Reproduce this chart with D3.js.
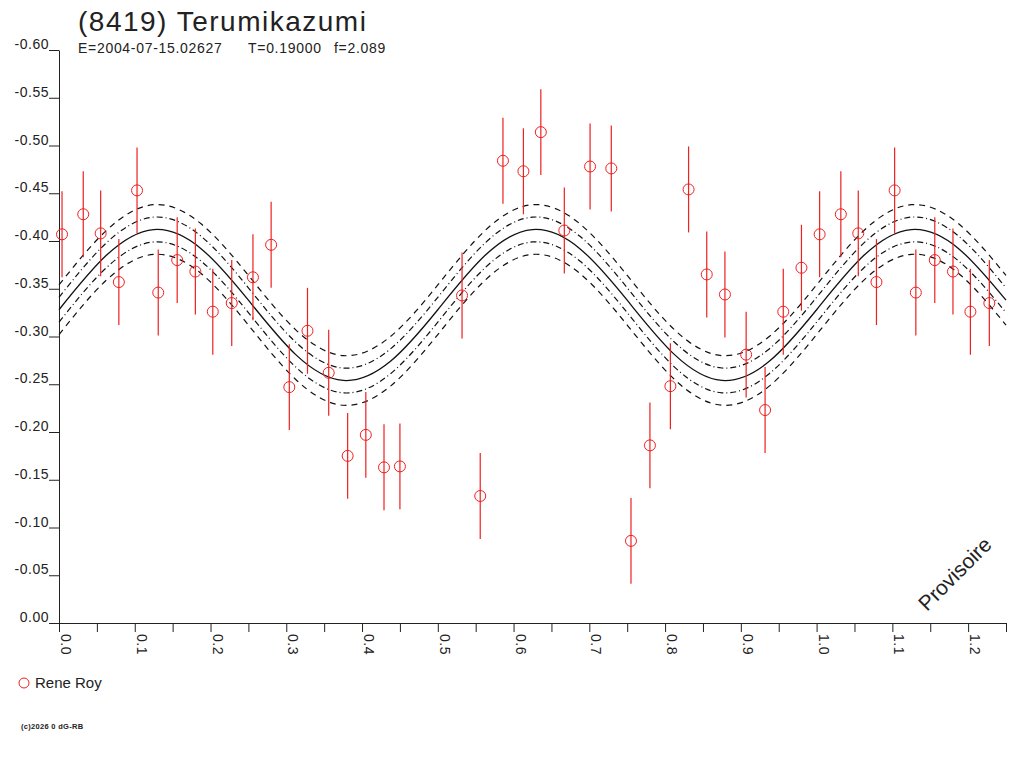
<!DOCTYPE html>
<html>
<head>
<meta charset="utf-8">
<script src="https://cdn.jsdelivr.net/npm/d3@7"></script>
<style>
  body { margin: 0; background: #fff; }
  text { font-family: "Liberation Sans", Arial, sans-serif; fill: #222; }
</style>
</head>
<body>
<div id="chart"></div>
<script>
const width = 1024;
const height = 768;

// observations (phase, reduced magnitude), one rotation
const obsPhase = [0.004, 0.032, 0.055, 0.079, 0.103, 0.131, 0.156, 0.180, 0.203, 0.228,
  0.256, 0.280, 0.304, 0.328, 0.356, 0.381, 0.405, 0.429, 0.450, 0.532,
  0.556, 0.586, 0.613, 0.636, 0.667, 0.701, 0.729, 0.755, 0.780, 0.807,
  0.831, 0.855, 0.879, 0.907, 0.932, 0.956, 0.980];
const obsMag = [-0.407, -0.428, -0.408, -0.357, -0.453, -0.346, -0.380, -0.368, -0.326, -0.335,
  -0.362, -0.396, -0.247, -0.306, -0.262, -0.175, -0.197, -0.163, -0.164, -0.343,
  -0.133, -0.484, -0.473, -0.514, -0.411, -0.478, -0.476, -0.086, -0.186, -0.248,
  -0.454, -0.365, -0.344, -0.281, -0.223, -0.326, -0.372];
const obsErr = 0.045;

// fitted lightcurve
const modelPhase = [0, 0.0625, 0.125, 0.1875, 0.25, 0.3125, 0.375, 0.4375, 0.5, 0.5625,
  0.625, 0.6875, 0.75, 0.8125, 0.875, 0.9375, 1.0, 1.0625, 1.125, 1.1875, 1.25];
const modelMag = [-0.328, -0.385, -0.412, -0.392, -0.338, -0.281, -0.254, -0.274, -0.328, -0.385,
  -0.412, -0.392, -0.338, -0.281, -0.254, -0.274, -0.328, -0.385, -0.412, -0.392, -0.338];
const bandOffsets = [-0.026, -0.013, 0.013, 0.026];

const yTicks = [-0.60, -0.55, -0.50, -0.45, -0.40, -0.35, -0.30, -0.25, -0.20, -0.15, -0.10, -0.05, 0.00];
const xMajorTicks = [0, 0.1, 0.2, 0.3, 0.4, 0.5, 0.6, 0.7, 0.8, 0.9, 1.0, 1.1, 1.2];
const xMinorTicks = [0.05, 0.15, 0.25, 0.35, 0.45, 0.55, 0.65, 0.75, 0.85, 0.95, 1.05, 1.15, 1.25];

const svg = d3.select("#chart")
  .append("svg")
  .attr("width", width)
  .attr("height", height);

const x = d3.scaleLinear().domain([0, 1.25]).range([59, 1006]);
const y = d3.scaleLinear().domain([0, -0.6]).range([623, 50]);

// axes
const yAxis = svg.append("g")
  .attr("transform", "translate(59,0)")
  .call(d3.axisLeft(y).tickValues(yTicks).tickSize(10).tickSizeOuter(0)
    .tickFormat(d => d.toFixed(2)));
yAxis.attr("font-size", 14).attr("font-family", null).style("color", "#222");
yAxis.selectAll("text")
  .attr("dy", 0)
  .attr("y", -1.5)
  .attr("x", -10)
  .style("letter-spacing", "0.5px");

const xAxis = svg.append("g")
  .attr("transform", "translate(0,623)")
  .call(d3.axisBottom(x).tickValues(xMajorTicks.concat(xMinorTicks)).tickSize(9).tickSizeOuter(0)
    .tickFormat(d => xMajorTicks.includes(d) ? d.toFixed(1) : ""));
xAxis.attr("font-size", 14).attr("font-family", null).style("color", "#222");
xAxis.selectAll("text")
  .attr("transform", "rotate(90)")
  .attr("dy", 0)
  .attr("x", 11)
  .attr("y", -1.5)
  .style("text-anchor", "start")
  .style("letter-spacing", "0.5px");

// model curve and its envelopes
const line = d3.line()
  .x(d => x(d[0]))
  .y(d => y(d[1]))
  .curve(d3.curveNatural);

const model = modelPhase.map((p, i) => [p, modelMag[i]]);

svg.selectAll(".band")
  .data(bandOffsets)
  .enter()
  .append("path")
  .attr("class", "band")
  .attr("d", off => line(model.map(d => [d[0], d[1] + off])))
  .attr("fill", "none")
  .attr("stroke", "#111")
  .attr("stroke-width", 1.2)
  .attr("stroke-dasharray", off => Math.abs(off) > 0.02 ? "6,5" : "6,3,1,3");

svg.append("path")
  .attr("d", line(model))
  .attr("fill", "none")
  .attr("stroke", "#111")
  .attr("stroke-width", 1.3);

// points, second pass for phase > 1
let points = obsPhase.map((p, i) => ({ p: p, m: obsMag[i] }));
points = points.concat(points.filter(d => d.p + 1 <= 1.25).map(d => ({ p: d.p + 1, m: d.m })));

svg.selectAll(".err")
  .data(points)
  .enter()
  .append("line")
  .attr("class", "err")
  .attr("x1", d => x(d.p))
  .attr("x2", d => x(d.p))
  .attr("y1", d => y(d.m - obsErr))
  .attr("y2", d => y(d.m + obsErr))
  .attr("stroke", "#ee2020")
  .attr("stroke-width", 1.2);

svg.selectAll(".obs")
  .data(points)
  .enter()
  .append("circle")
  .attr("class", "obs")
  .attr("cx", d => x(d.p))
  .attr("cy", d => y(d.m))
  .attr("r", 5.5)
  .attr("fill", "none")
  .attr("stroke", "#ee2020")
  .attr("stroke-width", 1);

// titles
svg.append("text")
  .attr("x", 78)
  .attr("y", 31)
  .style("font-size", "28px")
  .style("letter-spacing", "1.5px")
  .text("(8419) Terumikazumi");

const sub = [["E=2004-07-15.02627", 78], ["T=0.19000", 248], ["f=2.089", 334]];
svg.selectAll(".sub")
  .data(sub)
  .enter()
  .append("text")
  .attr("class", "sub")
  .attr("x", d => d[1])
  .attr("y", 53)
  .style("font-size", "14px")
  .style("letter-spacing", "0.7px")
  .text(d => d[0]);

// legend
svg.append("circle")
  .attr("cx", 24)
  .attr("cy", 683)
  .attr("r", 5)
  .attr("fill", "none")
  .attr("stroke", "#ee2020");

svg.append("text")
  .attr("x", 35)
  .attr("y", 688)
  .style("font-size", "15px")
  .text("Rene Roy");

svg.append("text")
  .attr("x", 21)
  .attr("y", 729)
  .style("font-size", "7.5px")
  .style("font-weight", "bold")
  .style("letter-spacing", "0.3px")
  .text("(c)2026 0 dG-RB");

svg.append("text")
  .attr("transform", "translate(927,612) rotate(-45)")
  .style("font-size", "21px")
  .text("Provisoire");
</script>
</body>
</html>
